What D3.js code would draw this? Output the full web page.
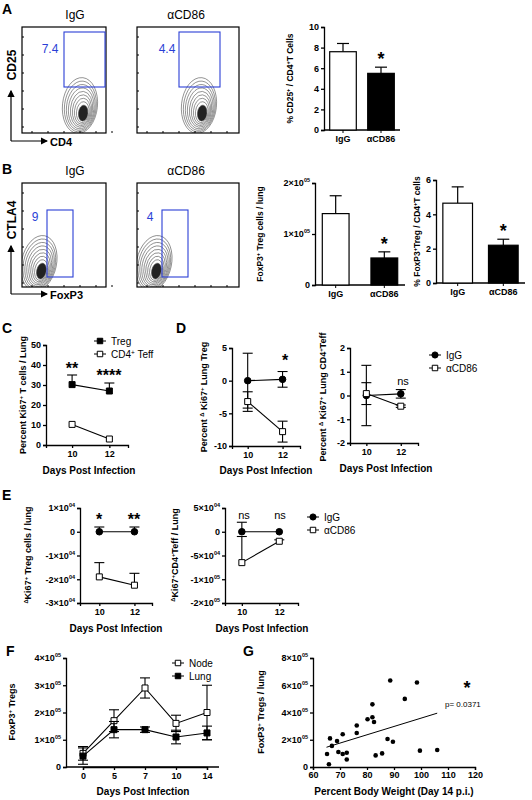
<!DOCTYPE html>
<html><head><meta charset="utf-8">
<script src="https://cdn.jsdelivr.net/npm/d3@7"></script>
<style>
body{margin:0;background:#fff}
svg{font-family:"Liberation Sans",Arial,sans-serif}
.ax path,.ax line{stroke:#000;stroke-width:1.3}
.ax text{font-size:9px;font-weight:bold;fill:#000}
.lab{font-weight:bold;fill:#000}
</style></head><body>
<svg id="c" width="532" height="800"></svg>
<script>
// ---- data ----
const groups = ["IgG", "\u03b1CD86"];
const aPct = [7.6, 5.5], aErr = [8.4, 6.1];
const bCount = [1.4e5, 0.53e5], bCountErr = [1.75e5, 0.65e5];
const bPct = [4.65, 2.2], bPctErr = [5.6, 2.55];
const days2 = [10, 12];
const cTreg = [30.2, 27], cTregErr = [35, 31];
const cTeff = [10.3, 3];
const dTregIgG = [0, 0.2], dTregIgGErr = [4.2, 1.2];
const dTregCD86 = [-3.2, -7.8], dTregCD86Err = [1.5, 1.6];
const dTeffIgG = [0, 0.07], dTeffIgGErr = [1.27, 0.18];
const dTeffCD86 = [0.08, -0.45], dTeffCD86Err = [0.46, 0.05];
const eTregIgG = [0, 0], eTregIgGErr = [0.2e4, 0.2e4];
const eTregCD86 = [-1.9e4, -2.25e4], eTregCD86Err = [0.6e4, 0.5e4];
const eTeffIgG = [0, 0], eTeffIgGErr = [2e4, 0];
const eTeffCD86 = [-6.5e4, -2e4], eTeffCD86Err = [5.5e4, 0.3e4];
const fDays = [0, 5, 7, 10, 14];
const fNode = [0.5e5, 1.7e5, 2.9e5, 1.6e5, 2.0e5], fNodeErr = [0.25e5, 0.4e5, 0.37e5, 0.3e5, 1.0e5];
const fLung = [0.4e5, 1.37e5, 1.37e5, 1.1e5, 1.25e5], fLungErr = [0.3e5, 0.3e5, 0.1e5, 0.25e5, 0.25e5];
const gWeight = [65.2,65.9,66.3,67,68.9,69.4,71,71,72.5,72.5,76.2,76.2,80.2,82,82,82.6,83.2,85.6,87.6,88.6,89.6,94,98.5,99.6,106];
const gTregs = [0.95e5,0.2e5,2.1e5,1.55e5,1.9e5,1.1e5,2.4e5,0.95e5,1.05e5,0.55e5,3.05e5,2.5e5,3.5e5,4.6e5,3.65e5,3.3e5,0.85e5,1.0e5,2.05e5,6.35e5,1.85e5,5.0e5,6.2e5,1.2e5,1.25e5];
const gFit = [[65, 1.45e5], [106, 3.95e5]];
const flowA = ["7.4", "4.4"], flowB = ["9", "4"];
const contourLevels = [1, 2, 3, 4, 5, 6, 7, 8, 9, 10];

const svg = d3.select("#c");
const defs = svg.append("defs");
const am = defs.append("marker").attr("id", "ar").attr("markerWidth", 6).attr("markerHeight", 6)
  .attr("refX", 5).attr("refY", 3).attr("orient", "auto");
am.append("path").attr("d", "M0,0 L6,3 L0,6 z").attr("fill", "#000");

function supText(sel, base, sup) {
  sel.text(base);
  if (sup) sel.append("tspan").attr("font-size", "5.5px").attr("dy", "-4").text(sup);
}
function sciFmt(v) {
  if (v === 0) return ["0", ""];
  const e = Math.floor(Math.log10(Math.abs(v)));
  const m = Math.round(v / Math.pow(10, e));
  return [m + "\u00d710", (e < 10 ? "0" : "") + e];
}
function yAxis(x, scale, ticks, sci, labels) {
  const g = svg.append("g").attr("class", "ax").attr("transform", `translate(${x},0)`)
    .call(d3.axisLeft(scale).tickValues(ticks).tickSize(3).tickPadding(2).tickFormat(""));
  g.selectAll(".tick text").each(function (d, i) {
    const t = d3.select(this);
    if (labels) { const l = labels[i]; supText(t, l[0], l[1]); }
    else if (sci) { const f = sciFmt(d); supText(t, f[0], f[1]); }
    else t.text(d);
  });
  return g;
}
function xAxis(y, scale, ticks, fmt) {
  const ax = d3.axisBottom(scale).tickSize(3).tickPadding(2);
  if (ticks) ax.tickValues(ticks);
  if (fmt) ax.tickFormat(fmt);
  return svg.append("g").attr("class", "ax").attr("transform", `translate(0,${y})`).call(ax);
}
function text(x, y, s, size, opts = {}) {
  const t = svg.append("text").attr("x", x).attr("y", y).attr("font-size", size + "px")
    .attr("text-anchor", opts.anchor || "middle").attr("fill", opts.fill || "#000")
    .attr("font-weight", opts.bold === false ? "normal" : "bold");
  if (opts.rot) t.attr("transform", `rotate(-90,${x},${y})`);
  return t.text(s);
}
function yLabel(x, y, parts, size) {
  const t = svg.append("text").attr("class", "lab").attr("font-size", size + "px")
    .attr("text-anchor", "middle").attr("transform", `translate(${x},${y}) rotate(-90)`);
  parts.forEach(p => {
    const ts = t.append("tspan").text(p[0]);
    if (p[1] === "sup") ts.attr("font-size", (size * 0.65) + "px").attr("baseline-shift", "super");
  });
}
function panelLetter(x, y, s) { text(x, y, s, 14, { anchor: "start" }); }

// ---- flow plots ----
let clipN = 0;
function flow(x0, y0, w, h, gate, label, cx, cy, rot, lx, ly) {
  const id = "clip" + (clipN++);
  defs.append("clipPath").attr("id", id).append("rect").attr("x", x0).attr("y", y0).attr("width", w).attr("height", h);
  const g = svg.append("g").attr("clip-path", `url(#${id})`).append("g")
    .attr("transform", `translate(${x0 + cx},${y0 + cy}) rotate(${rot})`);
  g.selectAll("ellipse").data(contourLevels).join("ellipse")
    .attr("rx", d => 1.5 + d * 1.6).attr("ry", d => 3 + d * 2.5)
    .attr("cx", d => -d * 0.5).attr("cy", d => -d * 0.9)
    .attr("fill", d => d < 3 ? "#222" : "none").attr("stroke", "#444").attr("stroke-width", 0.55);
  svg.append("rect").attr("x", x0).attr("y", y0).attr("width", w).attr("height", h)
    .attr("fill", "none").attr("stroke", "#000").attr("stroke-width", 1.2);
  svg.append("rect").attr("x", x0 + gate[0]).attr("y", y0 + gate[1]).attr("width", gate[2]).attr("height", gate[3])
    .attr("fill", "none").attr("stroke", "#2a3fd6").attr("stroke-width", 1.1);
  text(x0 + lx, y0 + ly, label, 12, { fill: "#2a3fd6", bold: false });
  const tk = d3.range(6);
  svg.append("g").selectAll("line").data(tk).join("line")
    .attr("x1", x0).attr("x2", x0 + 2).attr("y1", d => y0 + 10 + d * 18).attr("y2", d => y0 + 10 + d * 18).attr("stroke", "#000");
  svg.append("g").selectAll("line").data(tk).join("line")
    .attr("y1", y0 + h).attr("y2", y0 + h - 2).attr("x1", d => x0 + 10 + d * 16).attr("x2", d => x0 + 10 + d * 16).attr("stroke", "#000");
}
function arrowAxes(x, y, up, right, yl, xl) {
  svg.append("path").attr("d", `M${x},${y} L${x},${y - up}`).attr("stroke", "#000").attr("stroke-width", 1.2).attr("marker-end", "url(#ar)");
  svg.append("path").attr("d", `M${x},${y} L${x + right},${y}`).attr("stroke", "#000").attr("stroke-width", 1.2).attr("marker-end", "url(#ar)");
  text(x + 5, y - up - 26, yl, 12, { rot: true });
  text(x + right + 3, y + 5, xl, 11, { anchor: "start" });
}

panelLetter(2, 14, "A");
text(75, 19, "IgG", 12, { bold: false });
text(186, 19, "\u03b1CD86", 12, { bold: false });
flow(22, 27, 84, 106, [42, 5, 41, 55], flowA[0], 62, 88, 6, 28, 26);
flow(137, 27, 102, 106, [42, 5, 41, 55], flowA[1], 66, 88, 6, 30, 26);
arrowAxes(11, 141, 50, 36, "CD25", "CD4");

// bar charts
function bars(x0, x1, yTop, yBot, max, ticks, vals, errs, sci, bandPad, yl, ylx) {
  const y = d3.scaleLinear().domain([0, max]).range([yBot, yTop]);
  const x = d3.scaleBand().domain(groups).range([x0, x1]).paddingInner(bandPad).paddingOuter(0.15);
  yAxis(x0, y, ticks, sci).selectAll("text").attr("font-size", sci ? "8px" : "10px");
  svg.append("line").attr("x1", x0).attr("x2", x1).attr("y1", yBot).attr("y2", yBot).attr("stroke", "#000").attr("stroke-width", 1.3);
  groups.forEach((gname, i) => {
    const cx = x(gname) + x.bandwidth() / 2;
    svg.append("line").attr("x1", cx).attr("x2", cx).attr("y1", y(vals[i])).attr("y2", y(errs[i])).attr("stroke", "#000").attr("stroke-width", 1.2);
    svg.append("line").attr("x1", cx - 6).attr("x2", cx + 6).attr("y1", y(errs[i])).attr("y2", y(errs[i])).attr("stroke", "#000").attr("stroke-width", 1.2);
    svg.append("rect").attr("x", x(gname)).attr("y", y(vals[i])).attr("width", x.bandwidth()).attr("height", yBot - y(vals[i]))
      .attr("fill", i ? "#000" : "#fff").attr("stroke", "#000").attr("stroke-width", 1.2);
    svg.append("line").attr("x1", cx).attr("x2", cx).attr("y1", yBot).attr("y2", yBot + 3).attr("stroke", "#000");
    text(cx, yBot + 12, gname, 9);
  });
  text(x(groups[1]) + x.bandwidth() / 2, y(errs[1]) - 2, "*", 18);
  yLabel(ylx, (yTop + yBot) / 2, yl, 8.5);
}
bars(324, 400, 27, 130, 10, [0, 2, 4, 6, 8, 10], aPct, aErr, false, 0.3,
  [["% CD25"], ["+", "sup"], [" / CD4"], ["+", "sup"], ["T Cells"]], 293);

panelLetter(2, 174, "B");
text(75, 175, "IgG", 12, { bold: false });
text(186, 175, "\u03b1CD86", 12, { bold: false });
flow(22, 183, 84, 104, [25, 27, 26, 67], flowB[0], 20, 90, 12, 13, 38);
flow(137, 183, 102, 104, [25, 27, 26, 67], flowB[1], 20, 90, 12, 13, 38);
arrowAxes(11, 294, 48, 36, "CTLA4", "FoxP3");

bars(315, 405, 183, 285, 2e5, [0, 1e5, 2e5], bCount, bCountErr, true, 0.45,
  [["FoxP3"], ["+", "sup"], [" Treg cells / lung"]], 263);
bars(436, 525, 180, 283, 6, [0, 2, 4, 6], bPct, bPctErr, false, 0.35,
  [["% FoxP3"], ["+", "sup"], ["Treg / CD4"], ["+", "sup"], ["T cells"]], 420);

// ---- line plots ----
function lineSeries(x, y, xs, vals, errs, filled, shape, both) {
  const l = d3.line().x((d, i) => x(xs[i])).y(d => y(d));
  svg.append("path").attr("d", l(vals)).attr("fill", "none").attr("stroke", "#000").attr("stroke-width", 1.1);
  vals.forEach((v, i) => {
    if (!errs[i]) return;
    const cx = x(xs[i]);
    const top = v + errs[i], bot = both ? v - errs[i] : v;
    svg.append("line").attr("x1", cx).attr("x2", cx).attr("y1", y(top)).attr("y2", y(bot)).attr("stroke", "#000").attr("stroke-width", 1.1);
    [top].concat(both ? [bot] : []).forEach(e =>
      svg.append("line").attr("x1", cx - 5).attr("x2", cx + 5).attr("y1", y(e)).attr("y2", y(e)).attr("stroke", "#000").attr("stroke-width", 1.1));
  });
  const sym = d3.symbol().type(shape).size(shape === d3.symbolSquare ? 36 : 34);
  svg.append("g").selectAll("path").data(vals).join("path")
    .attr("transform", (d, i) => `translate(${x(xs[i])},${y(d)})`).attr("d", sym())
    .attr("fill", filled ? "#000" : "#fff").attr("stroke", "#000").attr("stroke-width", 1);
}
function legend(x, y, items) {
  items.forEach((it, i) => {
    svg.append("line").attr("x1", x - 6).attr("x2", x + 6).attr("y1", y + i * 13).attr("y2", y + i * 13).attr("stroke", "#000");
    svg.append("path").attr("transform", `translate(${x},${y + i * 13})`).attr("d", d3.symbol().type(it[1]).size(30)())
      .attr("fill", it[2] ? "#000" : "#fff").attr("stroke", "#000");
    const t = svg.append("text").attr("x", x + 11).attr("y", y + i * 13 + 4).attr("font-size", "10px");
    t.append("tspan").text(it[0]);
    if (it[3]) { t.append("tspan").attr("font-size", "6.5px").attr("baseline-shift", "super").text(it[3]); t.append("tspan").text(it[4]); }
  });
}
function dayAxis(x0, x1, yb, xdom) {
  const x = d3.scaleLinear().domain(xdom).range([x0, x1]);
  svg.append("g").attr("class", "ax").attr("transform", `translate(0,${yb})`)
    .call(d3.axisBottom(x).tickValues(days2).tickSize(3).tickPadding(3).tickFormat(d3.format("d")))
    .selectAll("text").attr("font-size", "10px");
  return x;
}

// C
panelLetter(2, 333, "C");
{
  const y = d3.scaleLinear().domain([0, 50]).range([445, 345]);
  yAxis(46, y, [0, 10, 20, 30, 40, 50]).selectAll("text").attr("font-size", "10px");
  const x = dayAxis(46, 128, 445, [8.6, 13]);
  lineSeries(x, y, days2, cTreg, cTregErr.map((e, i) => e - cTreg[i]), true, d3.symbolSquare, false);
  lineSeries(x, y, days2, cTeff, [0, 0], false, d3.symbolSquare, false);
  text(72, 374, "**", 16); text(109, 381, "****", 16);
  legend(100, 341, [["Treg", d3.symbolSquare, true], ["CD4", d3.symbolSquare, false, "+", " Teff"]]);
  text(89, 474, "Days Post Infection", 10);
  yLabel(26, 395, [["Percent Ki67"], ["+", "sup"], [" T cells / Lung"]], 9);
}
// D
panelLetter(176, 333, "D");
{
  const y = d3.scaleLinear().domain([-10, 5]).range([446, 348]);
  yAxis(232, y, [-10, -5, 0, 5]).selectAll("text").attr("font-size", "10px");
  const x = dayAxis(232, 300, 446, [9.1, 13]);
  lineSeries(x, y, days2, dTregIgG, dTregIgGErr, true, d3.symbolCircle, true);
  lineSeries(x, y, days2, dTregCD86, dTregCD86Err, false, d3.symbolSquare, true);
  text(285, 366, "*", 16);
  text(266, 474, "Days Post Infection", 10);
  yLabel(207, 397, [["Percent "], ["\u0394", "sup"], [" Ki67"], ["+", "sup"], [" Lung Treg"]], 9);
}
{
  const y = d3.scaleLinear().domain([-2, 2]).range([443, 348]);
  yAxis(350, y, [-2, -1, 0, 1, 2]).selectAll("text").attr("font-size", "10px");
  const x = dayAxis(350, 418, 443, [9.05, 13]);
  lineSeries(x, y, days2, dTeffIgG, dTeffIgGErr, true, d3.symbolCircle, true);
  lineSeries(x, y, days2, dTeffCD86, dTeffCD86Err, false, d3.symbolSquare, true);
  text(403, 385, "ns", 11, { bold: false });
  text(386, 472, "Days Post Infection", 10);
  yLabel(326, 397, [["Percent "], ["\u0394", "sup"], [" Ki67"], ["+", "sup"], [" Lung CD4"], ["+", "sup"], ["Teff"]], 9);
  legend(435, 355, [["IgG", d3.symbolCircle, true], ["\u03b1CD86", d3.symbolSquare, false]]);
}
// E
panelLetter(2, 500, "E");
{
  const y = d3.scaleLinear().domain([-3e4, 1e4]).range([603, 508]);
  yAxis(80, y, [-3e4, -2e4, -1e4, 0, 1e4], true).selectAll("text").attr("font-size", "8px");
  const x = dayAxis(80, 152, 603, [8.9, 13]);
  lineSeries(x, y, days2, eTregIgG, eTregIgGErr, true, d3.symbolCircle, false);
  lineSeries(x, y, days2, eTregCD86, eTregCD86Err, false, d3.symbolSquare, false);
  text(99, 525, "*", 16); text(134, 525, "**", 16);
  text(116, 632, "Days Post Infection", 10);
  yLabel(31, 555, [["\u0394", "sup"], ["Ki67"], ["+", "sup"], [" Treg cells / lung"]], 9);
}
{
  const y = d3.scaleLinear().domain([-1.5e5, 5e4]).range([603, 508]);
  yAxis(225, y, [-1.5e5, -1e5, -5e4, 0, 5e4], true,
    [["-2\u00d710", "05"], ["-1\u00d710", "05"], ["-5\u00d710", "04"], ["0", ""], ["5\u00d710", "04"]]).selectAll("text").attr("font-size", "8px");
  const x = dayAxis(225, 298, 603, [9.1, 13]);
  lineSeries(x, y, days2, eTeffIgG, eTeffIgGErr, true, d3.symbolCircle, false);
  lineSeries(x, y, days2, eTeffCD86, eTeffCD86Err, false, d3.symbolSquare, false);
  text(244, 519, "ns", 11, { bold: false }); text(280, 519, "ns", 11, { bold: false });
  text(262, 632, "Days Post Infection", 10);
  yLabel(178, 555, [["\u0394", "sup"], ["Ki67"], ["+", "sup"], ["CD4"], ["+", "sup"], ["Teff / Lung"]], 9);
  legend(313, 517, [["IgG", d3.symbolCircle, true], ["\u03b1CD86", d3.symbolSquare, false]]);
}
// F
panelLetter(6, 656, "F");
{
  const y = d3.scaleLinear().domain([0, 4e5]).range([767, 658]);
  yAxis(66, y, [0, 1e5, 2e5, 3e5, 4e5], true).selectAll("text").attr("font-size", "10px");
  const x = d3.scalePoint().domain(fDays).range([83, 207]);
  svg.append("g").attr("class", "ax").attr("transform", "translate(0,767)")
    .call(d3.axisBottom(x).tickSize(3).tickPadding(3)).selectAll("text").attr("font-size", "9px");
  svg.append("line").attr("x1", 66).attr("x2", 219).attr("y1", 767).attr("y2", 767).attr("stroke", "#000").attr("stroke-width", 1.3);
  lineSeries(x, y, fDays, fNode, fNodeErr, false, d3.symbolSquare, true);
  lineSeries(x, y, fDays, fLung, fLungErr, true, d3.symbolSquare, true);
  legend(178, 663, [["Node", d3.symbolSquare, false], ["Lung", d3.symbolSquare, true]]);
  text(143, 795, "Days Post Infection", 10);
  yLabel(15, 712, [["FoxP3"], ["+", "sup"], [" Tregs"]], 9);
}
// G
panelLetter(243, 656, "G");
{
  const y = d3.scaleLinear().domain([0, 8e5]).range([767, 658]);
  yAxis(313, y, [0, 2e5, 4e5, 6e5, 8e5], true).selectAll("text").attr("font-size", "10px");
  const x = d3.scaleLinear().domain([60, 120]).range([313, 475]);
  xAxis(767, x, d3.range(60, 121, 10)).selectAll("text").attr("font-size", "9px");
  svg.append("g").selectAll("circle").data(gWeight).join("circle")
    .attr("cx", d => x(d)).attr("cy", (d, i) => y(gTregs[i])).attr("r", 2.3).attr("fill", "#000");
  svg.append("line").attr("x1", x(gFit[0][0])).attr("y1", y(gFit[0][1])).attr("x2", x(gFit[1][0])).attr("y2", y(gFit[1][1]))
    .attr("stroke", "#000").attr("stroke-width", 1);
  text(467, 694, "*", 18);
  text(445, 707, "p= 0.0371", 8, { bold: false, anchor: "start" });
  text(394, 795, "Percent Body Weight (Day 14 p.i.)", 10);
  yLabel(264, 712, [["FoxP3"], ["+", "sup"], [" Tregs / lung"]], 9);
}
</script></body></html>
